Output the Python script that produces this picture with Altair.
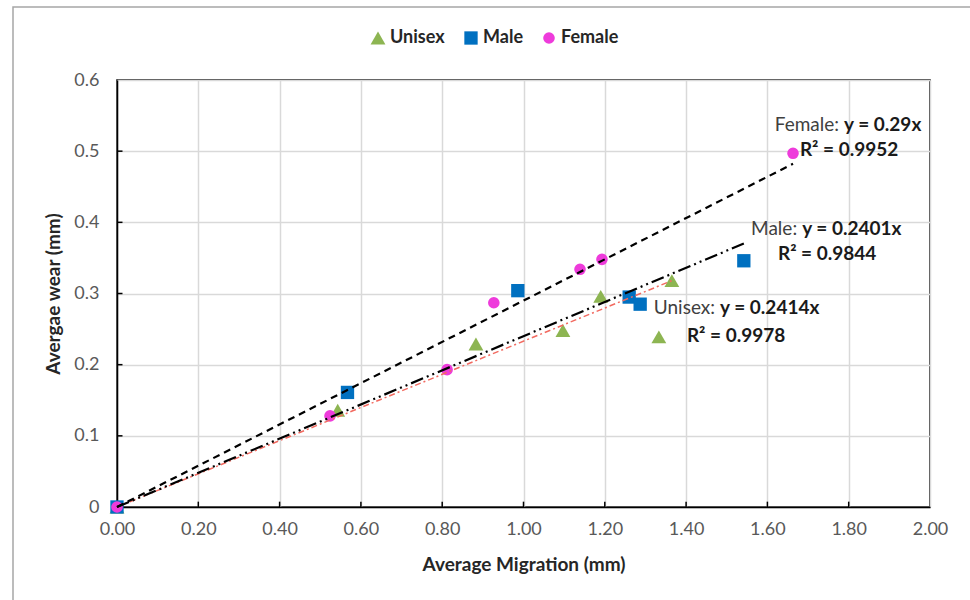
import altair as alt
import pandas as pd

# ---- data ----
series_order = ["Unisex", "Male", "Female"]

female_x = [0.0, 0.524, 0.812, 0.927, 1.139, 1.193, 1.663]
female_y = [0.0, 0.128, 0.193, 0.287, 0.334, 0.348, 0.497]

male_x = [0.0, 0.567, 0.986, 1.260, 1.287, 1.542]
male_y = [0.0, 0.161, 0.304, 0.295, 0.285, 0.346]

unisex_x = [0.0, 0.543, 0.883, 1.097, 1.190, 1.333, 1.365]
unisex_y = [0.0, 0.136, 0.229, 0.248, 0.296, 0.239, 0.318]

# trendline slopes (y = a x), as drawn
trend_slope = {"Female": 0.29, "Male": 0.2401, "Unisex": 0.233}

# annotation texts
eq_name = ["Female:", "Male:", "Unisex:"]
eq_bold = ["y = 0.29x", "y = 0.2401x", "y = 0.2414x"]
r2_text = ["R² = 0.9952", "R² = 0.9844", "R² = 0.9978"]
eq_anchor_x = [1.786, 1.683, 1.481]
eq_anchor_y = [0.537, 0.391, 0.279]
r2_anchor_x = [1.801, 1.747, 1.523]
r2_anchor_y = [0.502, 0.356, 0.2405]

x_ticks = [0.2, 0.4, 0.6, 0.8, 1.0, 1.2, 1.4, 1.6, 1.8]
y_ticks = [0.1, 0.2, 0.3, 0.4, 0.5]

FONT = "Lato"

pts = pd.DataFrame(
    [{"series": "Female", "x": a, "y": b} for a, b in zip(female_x, female_y)]
    + [{"series": "Male", "x": a, "y": b} for a, b in zip(male_x, male_y)]
    + [{"series": "Unisex", "x": a, "y": b} for a, b in zip(unisex_x, unisex_y)]
)

xmax = {"Female": max(female_x), "Male": max(male_x), "Unisex": max(unisex_x)}
trend_rows = []
for s in series_order:
    trend_rows.append({"series": s, "x": 0.0, "y": 0.0})
    trend_rows.append({"series": s, "x": xmax[s], "y": trend_slope[s] * xmax[s]})
trend = pd.DataFrame(trend_rows)

xs = alt.Scale(domain=[0, 2], nice=False, zero=True)
ys = alt.Scale(domain=[0, 0.6], nice=False, zero=True)

x_axis = alt.Axis(
    title="Average Migration (mm)", values=[0, 0.2, 0.4, 0.6, 0.8, 1.0, 1.2, 1.4, 1.6, 1.8, 2.0],
    format=".2f", tickSize=0, labelPadding=13, titlePadding=17,
    labelFont=FONT, labelFontSize=18, labelColor="#595959",
    titleFont=FONT, titleFontSize=19, titleFontWeight="bold", titleColor="#262626",
    domainColor="black", domainWidth=1.5, gridColor="#D9D9D9", gridWidth=1.5,
    labelFlush=False,
)
y_axis = alt.Axis(
    title="Avergae wear (mm)", values=[0, 0.1, 0.2, 0.3, 0.4, 0.5, 0.6],
    format=".1~f", tickSize=0, labelPadding=18, titlePadding=10,
    labelFont=FONT, labelFontSize=18, labelColor="#595959",
    titleFont=FONT, titleFontSize=19, titleFontWeight="bold", titleColor="#262626",
    domainColor="black", domainWidth=1.5, gridColor="#D9D9D9", gridWidth=1.5,
    labelFlush=False,
)

base_pts = alt.Chart(pts).mark_point(filled=True, opacity=1, strokeWidth=0).encode(
    x=alt.X("x:Q", scale=xs, axis=x_axis),
    y=alt.Y("y:Q", scale=ys, axis=y_axis),
    color=alt.Color(
        "series:N",
        scale=alt.Scale(domain=series_order, range=["#8DB552", "#0070C0", "#EE3BDB"]),
        legend=alt.Legend(
            title=None, orient="none", direction="horizontal", legendX=252, legendY=-51,
            labelFont=FONT, labelFontSize=18, labelFontWeight="bold", labelColor="#262626",
            columnPadding=17, labelOffset=3, symbolStrokeWidth=0,
        ),
    ),
    shape=alt.Shape(
        "series:N",
        scale=alt.Scale(domain=series_order, range=["triangle-up", "square", "circle"]),
    ),
    size=alt.Size(
        "series:N",
        scale=alt.Scale(domain=series_order, range=[220, 135, 125]),
    ),
    order=alt.Order("series:N", sort="descending"),
)

line_styles = {
    "Female": dict(color="black", strokeWidth=2.2, strokeDash=[7, 5]),
    "Male": dict(color="black", strokeWidth=2.2, strokeDash=[13, 4, 2, 4, 2, 4]),
    "Unisex": dict(color="#F26A60", strokeWidth=1.5, strokeDash=[6, 3, 2, 3]),
}
lines = []
for s in ["Unisex", "Male", "Female"]:
    lines.append(
        alt.Chart(trend[trend.series == s]).mark_line(**line_styles[s]).encode(
            x=alt.X("x:Q", scale=xs), y=alt.Y("y:Q", scale=ys)
        )
    )

ticks_df_x = pd.DataFrame({"x": x_ticks, "y0": [0.0] * len(x_ticks), "y1": [0.0075] * len(x_ticks)})
ticks_df_y = pd.DataFrame({"y": y_ticks, "x0": [0.0] * len(y_ticks), "x1": [0.0135] * len(y_ticks)})
xt = alt.Chart(ticks_df_x).mark_rule(color="black", strokeWidth=1.5).encode(
    x=alt.X("x:Q", scale=xs), y=alt.Y("y0:Q", scale=ys), y2="y1:Q"
)
yt = alt.Chart(ticks_df_y).mark_rule(color="black", strokeWidth=1.5).encode(
    y=alt.Y("y:Q", scale=ys), x=alt.X("x0:Q", scale=xs), x2="x1:Q"
)

ann = pd.DataFrame({
    "name": eq_name, "bold": eq_bold, "r2": r2_text,
    "ex": eq_anchor_x, "ey": eq_anchor_y, "rx": r2_anchor_x, "ry": r2_anchor_y,
})
t_name = alt.Chart(ann).mark_text(
    align="right", baseline="middle", font=FONT, fontSize=19, color="#404040", dx=-4
).encode(x=alt.X("ex:Q", scale=xs), y=alt.Y("ey:Q", scale=ys), text="name:N")
t_bold = alt.Chart(ann).mark_text(
    align="left", baseline="middle", font=FONT, fontSize=19, fontWeight="bold", color="#1a1a1a", dx=1
).encode(x=alt.X("ex:Q", scale=xs), y=alt.Y("ey:Q", scale=ys), text="bold:N")
t_r2 = alt.Chart(ann).mark_text(
    align="center", baseline="middle", font=FONT, fontSize=19, fontWeight="bold", color="#1a1a1a"
).encode(x=alt.X("rx:Q", scale=xs), y=alt.Y("ry:Q", scale=ys), text="r2:N")

frame = alt.Chart(pd.DataFrame({"a": [0]})).mark_rect(
    fill="white", fillOpacity=0, stroke="#A6A6A6", strokeWidth=1.5
).encode(x=alt.value(-104), x2=alt.value(900), y=alt.value(-73), y2=alt.value(600))

chart = alt.layer(
    frame, base_pts, *lines, xt, yt, t_name, t_bold, t_r2
).properties(
    width=813, height=427,
    autosize=alt.AutoSizeParams(type="none"),
    padding={"left": 117, "top": 80, "right": 40, "bottom": 93},
    background="white",
).configure_view(
    stroke="black", strokeWidth=1.5
)

chart.save("out.html", embed_options={"renderer": "svg", "actions": False})
